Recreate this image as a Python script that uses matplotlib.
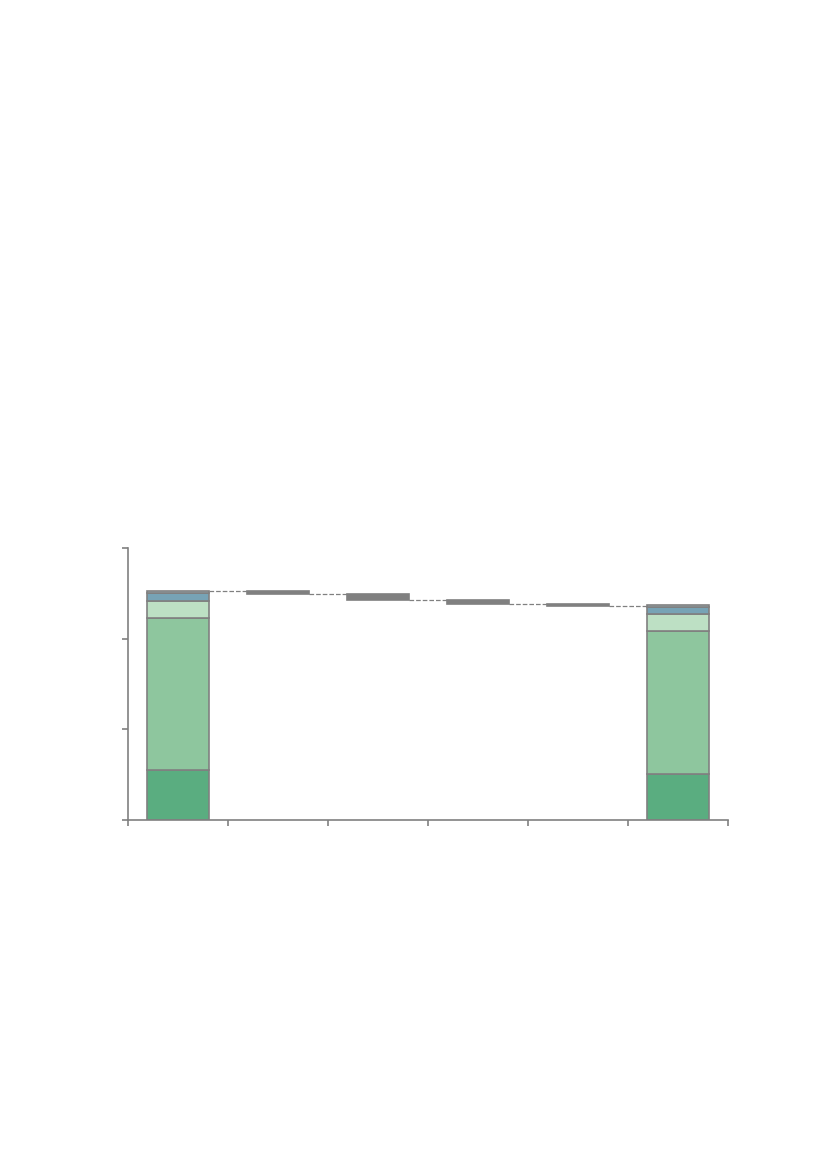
import numpy as np
import matplotlib.pyplot as plt

# stacked totals (first and last column), bottom to top
start_parts = [0.548, 1.677, 0.187, 0.088, 0.029]
end_parts = [0.504, 1.577, 0.187, 0.078, 0.022]
part_colors = ['#5aad80', '#8ec69e', '#bde0c4', '#77a3b5', '#a9c3ce']

# changes between the two totals
deltas = [-0.033, -0.07, -0.042, -0.022]

fig = plt.figure(figsize=(8.27, 11.69), dpi=100)
ax = fig.add_axes([128/827, 1 - 820/1169, 600/827, 272/1169])

w = 0.62
edge = '#808080'

# first total
bottom = 0
for v, c in zip(start_parts, part_colors):
    ax.bar(0.5, v, w, bottom=bottom, color=c, edgecolor=edge, linewidth=1.2)
    bottom += v
level = bottom

# floating delta bars + dashed connectors
prev_right = 0.5 + w / 2
for i, d in enumerate(deltas):
    x = 1.5 + i
    ax.plot([prev_right, x - w / 2], [level, level], ls='--', color=edge, lw=0.9)
    ax.bar(x, d, w, bottom=level, color=edge, edgecolor=edge, linewidth=1.2)
    level += d
    prev_right = x + w / 2
ax.plot([prev_right, 5.5 - w / 2], [level, level], ls='--', color=edge, lw=0.9)

# last total
bottom = 0
for v, c in zip(end_parts, part_colors):
    ax.bar(5.5, v, w, bottom=bottom, color=c, edgecolor=edge, linewidth=1.2)
    bottom += v

ax.set_xlim(0, 6)
ax.set_ylim(0, 3)
ax.set_xticks(np.arange(0, 7))
ax.set_yticks(np.arange(0, 4))
ax.set_xticklabels([])
ax.set_yticklabels([])
for s in ['top', 'right']:
    ax.spines[s].set_visible(False)
for s in ['left', 'bottom']:
    ax.spines[s].set_color(edge)
    ax.spines[s].set_linewidth(1.2)
ax.tick_params(colors=edge, length=4, width=1.2)

fig.savefig('out.png', dpi=100)
